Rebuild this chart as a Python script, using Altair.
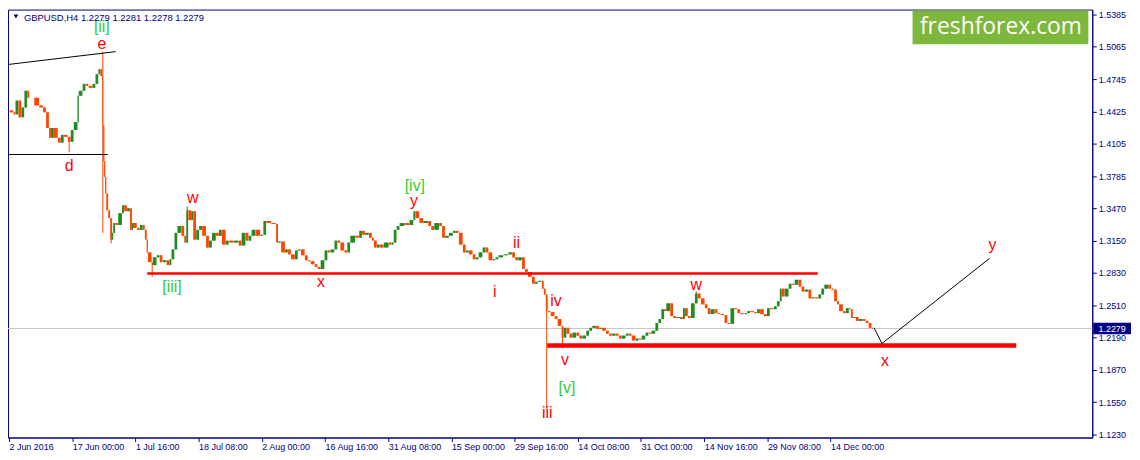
import altair as alt
import pandas as pd

# ---- data (bar index on the x axis, price on the y axis) ----
bars = [3, 7, 9, 12, 15, 18, 21, 23, 28, 33, 37, 40, 43, 45, 48, 52, 55, 58, 62, 65,
        68, 72, 73, 77, 80, 83, 87, 90, 93, 95, 97, 98, 99, 100, 101, 103, 105, 107, 108, 110,
        113, 117, 119, 122, 125, 127, 128, 132, 135, 138, 140, 142, 143, 147, 148, 152, 155, 158, 162, 165,
        167, 170, 173, 177, 180, 182, 184, 187, 189, 192, 195, 198, 202, 205, 208, 212, 215, 218, 222, 225,
        230, 235, 238, 242, 245, 248, 252, 257, 260, 263, 268, 273, 275, 278, 282, 285, 288, 292, 295, 298,
        302, 305, 308, 312, 315, 318, 322, 325, 328, 332, 335, 338, 342, 345, 348, 353, 357, 360, 363, 367,
        370, 372, 375, 378, 382, 387, 390, 392, 395, 398, 403, 408, 412, 414, 418, 422, 427, 430, 433, 438,
        441, 444, 448, 452, 455, 458, 462, 465, 468, 472, 475, 478, 482, 485, 488, 492, 495, 498, 503, 508,
        512, 515, 518, 522, 525, 528, 532, 535, 538, 542, 544, 546, 548, 551, 555, 558, 562, 564, 567, 570,
        573, 577, 580, 583, 587, 590, 593, 597, 600, 603, 607, 610, 613, 617, 620, 623, 627, 630, 633, 637,
        640, 643, 647, 650, 653, 657, 660, 663, 666, 668, 672, 675, 678, 682, 685, 687, 690, 693, 697, 700,
        703, 707, 710, 713, 717, 720, 723, 727, 730, 733, 737, 740, 743, 747, 750, 753, 757, 760, 763, 767,
        770, 773, 777, 780, 783, 785, 788, 792, 795, 798, 802, 805, 808, 812, 815, 818, 822, 825, 828, 832,
        835, 838, 841, 843, 847, 850, 853, 855, 857, 860, 863, 867, 870, 873, 876, 878]

closes = [1.4436, 1.4417, 1.4397, 1.4533, 1.4368, 1.4465, 1.4630, 1.4562, 1.4562, 1.4485, 1.4465, 1.4417, 1.4262, 1.4165, 1.4262, 1.4165, 1.4117, 1.4194, 1.4175, 1.4126,
          1.4242, 1.4320, 1.4581, 1.4630, 1.4698, 1.4678, 1.4659, 1.4698, 1.4794, 1.4843, 1.4775, 1.4291, 1.3933, 1.3778, 1.3613, 1.3448, 1.3371, 1.3158, 1.3225, 1.3322,
          1.3303, 1.3419, 1.3497, 1.3439, 1.3468, 1.3255, 1.3322, 1.3274, 1.3255, 1.3303, 1.3255, 1.3158, 1.3032, 1.2935, 1.2906, 1.2983, 1.3003, 1.2935, 1.2954, 1.2906,
          1.2964, 1.3061, 1.3225, 1.3293, 1.3196, 1.3129, 1.3448, 1.3351, 1.3439, 1.3158, 1.3255, 1.3293, 1.3196, 1.3080, 1.3148, 1.3225, 1.3196, 1.3255, 1.3109, 1.3148,
          1.3129, 1.3148, 1.3100, 1.3225, 1.3148, 1.3196, 1.3255, 1.3196, 1.3206, 1.3342, 1.3322, 1.3312, 1.3129, 1.3139, 1.3032, 1.3061, 1.3012, 1.2964, 1.3051, 1.3061,
          1.3003, 1.2954, 1.2944, 1.2915, 1.2887, 1.2867, 1.2954, 1.3051, 1.3032, 1.3061, 1.3148, 1.3129, 1.3051, 1.3032, 1.3129, 1.3196, 1.3177, 1.3245, 1.3206, 1.3225,
          1.3177, 1.3148, 1.3080, 1.3109, 1.3080, 1.3129, 1.3109, 1.3129, 1.3255, 1.3293, 1.3322, 1.3303, 1.3351, 1.3439, 1.3371, 1.3322, 1.3342, 1.3293, 1.3255, 1.3322,
          1.3293, 1.3177, 1.3196, 1.3225, 1.3245, 1.3225, 1.3109, 1.3032, 1.3051, 1.3012, 1.2964, 1.2983, 1.3032, 1.3080, 1.3032, 1.2954, 1.2964, 1.2983, 1.3003, 1.3012,
          1.3032, 1.2983, 1.2954, 1.2983, 1.2867, 1.2838, 1.2790, 1.2722, 1.2741, 1.2751, 1.2673, 1.2615, 1.2451, 1.2441, 1.2402, 1.2373, 1.2305, 1.2189, 1.2286, 1.2228,
          1.2189, 1.2238, 1.2209, 1.2180, 1.2209, 1.2257, 1.2286, 1.2305, 1.2276, 1.2286, 1.2257, 1.2228, 1.2209, 1.2228, 1.2209, 1.2180, 1.2209, 1.2228, 1.2209, 1.2160,
          1.2180, 1.2170, 1.2209, 1.2238, 1.2228, 1.2257, 1.2334, 1.2373, 1.2470, 1.2451, 1.2528, 1.2402, 1.2383, 1.2393, 1.2373, 1.2480, 1.2402, 1.2383, 1.2528, 1.2625,
          1.2577, 1.2518, 1.2480, 1.2422, 1.2470, 1.2431, 1.2422, 1.2412, 1.2334, 1.2325, 1.2480, 1.2470, 1.2431, 1.2422, 1.2431, 1.2451, 1.2441, 1.2431, 1.2470, 1.2422,
          1.2402, 1.2480, 1.2470, 1.2499, 1.2548, 1.2673, 1.2596, 1.2673, 1.2722, 1.2712, 1.2761, 1.2693, 1.2644, 1.2664, 1.2577, 1.2587, 1.2577, 1.2615, 1.2673, 1.2712,
          1.2673, 1.2664, 1.2548, 1.2518, 1.2451, 1.2431, 1.2480, 1.2470, 1.2383, 1.2393, 1.2354, 1.2373, 1.2354, 1.2334, 1.2286, 1.2279]

# wick extremes of notable candles
wick_bars = [65, 98, 98, 107, 148, 184, 548, 564, 700]
wick_prices = [1.4020, 1.5017, 1.3225, 1.3121, 1.2790, 1.3487, 1.1482, 1.2083, 1.2645]

# x-axis (time) labels
x_tick_bars = [3, 67, 131, 195, 259, 323, 387, 451, 515, 579, 643, 707, 771, 835]
x_tick_labels = ["2 Jun 2016", "17 Jun 00:00", "1 Jul 16:00", "18 Jul 08:00", "2 Aug 00:00",
                 "16 Aug 16:00", "31 Aug 08:00", "15 Sep 00:00", "29 Sep 16:00", "14 Oct 08:00",
                 "31 Oct 00:00", "14 Nov 16:00", "29 Nov 08:00", "14 Dec 00:00"]
y_ticks = [1.5385, 1.5065, 1.4745, 1.4425, 1.4105, 1.3785, 1.3470, 1.3150, 1.2830,
           1.2510, 1.2190, 1.1870, 1.1550, 1.1230]

last_price = 1.2279

# drawn lines (bar, price)
black_seg_x = [3, 3]
black_seg_x2 = [111, 103]
black_seg_y = [1.4891, 1.4000]
black_seg_y2 = [1.5017, 1.4000]

red_thin = {"x": [143], "x2": [822], "y": [1.2823]}
red_thick = {"x": [548], "x2": [1023], "y": [1.2112]}

proj_bars = [879, 887, 996]
proj_prices = [1.2286, 1.2131, 1.2973]

# wave labels
lab_text = ["[ii]", "e", "d", "w", "[iii]", "x", "[iv]", "y", "ii", "i", "iv", "v", "[v]", "iii", "w", "x", "y"]
lab_bar = [97, 97, 64, 189, 168, 319, 414, 413, 517, 495, 557, 566, 568, 548, 699, 890, 999]
lab_price = [1.5259, 1.5095, 1.3884, 1.3574, 1.2693, 1.2741, 1.3690, 1.3535, 1.3129, 1.2635,
             1.2548, 1.1966, 1.1686, 1.1443, 1.2712, 1.1957, 1.3109]
lab_green = [True, False, False, False, True, False, True, False, False, False,
             False, False, True, False, False, False, False]

# ---- build tables ----
opens = [closes[0]] + closes[:-1]
prev_bars = [bars[0] - 2] + bars[:-1]
highs = [max(o, c) for o, c in zip(opens, closes)]
lows = [min(o, c) for o, c in zip(opens, closes)]
for b, p in zip(wick_bars, wick_prices):
    i = bars.index(b)
    highs[i] = max(highs[i], p)
    lows[i] = min(lows[i], p)

candles = pd.DataFrame({
    "x0": [p + 0.6 for p in prev_bars],
    "x1": [b + 0.4 for b in bars],
    "xm": [(p + b) / 2 + 0.5 for p, b in zip(prev_bars, bars)],
    "open": opens, "close": closes, "high": highs, "low": lows,
})
candles["up"] = candles["close"] >= candles["open"]

NAVY = "#000080"
GREEN = "#228B22"
ORANGE = "#FF4500"

x_scale = alt.Scale(domain=[2, 1100], nice=False, zero=False)
y_scale = alt.Scale(domain=[1.1201, 1.5433], nice=False, zero=False)

label_expr = "[" + ",".join("'%s'" % t for t in x_tick_labels) + "][indexof([" + \
    ",".join(str(v) for v in x_tick_bars) + "], datum.value)]"

x_axis = alt.Axis(values=x_tick_bars, labelExpr=label_expr, title=None, grid=False,
                  tickSize=4, tickColor=NAVY, domainColor=NAVY, labelColor=NAVY,
                  labelFont="Liberation Sans", labelFontSize=9, labelAlign="left",
                  labelBaseline="top", labelPadding=1, labelOverlap=False,
                  labelFlush=False, labelBound=False)
y_axis = alt.Axis(values=y_ticks, format=".4f", orient="right", title=None, grid=False,
                  tickSize=4, tickColor=NAVY, domainColor=NAVY, labelColor=NAVY,
                  labelFont="Liberation Sans", labelFontSize=9, labelAlign="left",
                  labelBaseline="middle", labelPadding=2, labelOverlap=False,
                  labelFlush=False, labelBound=False)

one = pd.DataFrame({"k": [0]})
color_cond = alt.condition("datum.up", alt.value(GREEN), alt.value(ORANGE))


def X(field):
    return alt.X(field, scale=x_scale, axis=x_axis)


def Y(field):
    return alt.Y(field, scale=y_scale, axis=y_axis)


price_line = alt.Chart(one).mark_rule(color="#C8C8C8", strokeWidth=1).encode(
    y=alt.YDatum(last_price, scale=y_scale, axis=y_axis))

wicks = alt.Chart(candles).mark_rule(strokeWidth=1).encode(
    x=X("xm:Q"), y=Y("low:Q"), y2="high:Q", color=color_cond)

bodies = alt.Chart(candles).mark_rect().encode(
    x=X("x0:Q"), x2="x1:Q", y=Y("open:Q"), y2="close:Q", color=color_cond)

black_df = pd.DataFrame({"x": black_seg_x, "x2": black_seg_x2, "y": black_seg_y, "y2": black_seg_y2})
black_lines = alt.Chart(black_df).mark_rule(color="black", strokeWidth=1).encode(
    x=X("x:Q"), x2="x2:Q", y=Y("y:Q"), y2="y2:Q")

red1 = alt.Chart(pd.DataFrame(red_thin)).mark_rule(color="#FF0000", strokeWidth=2.5).encode(
    x=X("x:Q"), x2="x2:Q", y=Y("y:Q"))
red2 = alt.Chart(pd.DataFrame(red_thick)).mark_rule(color="#FF0000", strokeWidth=4.5).encode(
    x=X("x:Q"), x2="x2:Q", y=Y("y:Q"))

proj_df = pd.DataFrame({"b": proj_bars, "p": proj_prices, "o": list(range(len(proj_bars)))})
proj = alt.Chart(proj_df).mark_line(color="black", strokeWidth=1).encode(
    x=X("b:Q"), y=Y("p:Q"), order="o:Q")

lab_df = pd.DataFrame({"t": lab_text, "b": lab_bar, "p": lab_price,
                       "c": ["#32CD32" if g else "#FF0000" for g in lab_green]})
labels = alt.Chart(lab_df).mark_text(font="Liberation Sans", fontSize=16,
                                     align="center", baseline="middle").encode(
    x=X("b:Q"), y=Y("p:Q"), text="t:N", color=alt.Color("c:N", scale=None))

# header
tri = alt.Chart(one).mark_point(shape="triangle-down", filled=True, color=NAVY, size=22, opacity=1).encode(
    x=alt.value(8), y=alt.value(7))
header = alt.Chart(one).mark_text(text="GBPUSD,H4  1.2279 1.2281 1.2278 1.2279", font="Liberation Sans",
                                  fontSize=9.5, color=NAVY, align="left", baseline="middle").encode(
    x=alt.value(16), y=alt.value(8))

# watermark
wm_box = alt.Chart(one).mark_rect(color="#7DB83C").encode(
    x=alt.value(911), x2=alt.value(1088), y=alt.value(1), y2=alt.value(35))
wm_text = alt.Chart(one).mark_text(text="freshforex.com", font="Open Sans", fontSize=23,
                                   color="white", align="center", baseline="middle").encode(
    x=alt.value(1000), y=alt.value(18))

# current price tag on the price scale
tag_box = alt.Chart(one).mark_rect(color=NAVY).encode(
    x=alt.value(1093), x2=alt.value(1131),
    y=alt.YDatum(last_price + 0.0056, scale=y_scale, axis=y_axis), y2=alt.datum(last_price - 0.0056))
tag_text = alt.Chart(one).mark_text(text="1.2279", font="Liberation Sans", fontSize=9,
                                    color="white", align="center", baseline="middle").encode(
    x=alt.value(1112), y=alt.YDatum(last_price, scale=y_scale, axis=y_axis))

chart = alt.layer(
    price_line, wicks, bodies, black_lines, red1, red2, proj, labels,
    tri, header, wm_box, wm_text, tag_box, tag_text
).properties(
    width=1092, height=431,
    padding={"left": 0, "top": 0, "right": 40, "bottom": 16},
    autosize=alt.AutoSizeParams(type="none"),
    background="white",
).configure_view(stroke=NAVY, strokeWidth=1).configure_axis(labelOverlap=False)

chart.save("out.html", embed_options={"renderer": "svg", "actions": False})
